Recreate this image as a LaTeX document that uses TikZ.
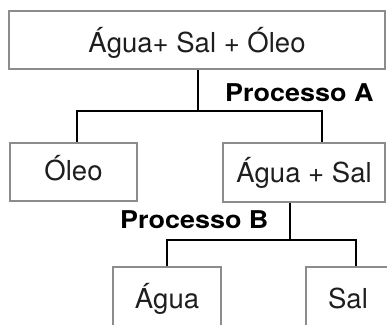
\documentclass[tikz,border=0pt]{standalone}
\usepackage{fontspec}
\setmainfont{TeX Gyre Heros}
\newfontfamily\labfont[FakeStretch=1.1]{TeX Gyre Heros}
\definecolor{boxgray}{HTML}{8C8C8C}
\definecolor{txt}{HTML}{1E1E1E}
\begin{document}
\begin{tikzpicture}[x=1pt,y=-1pt,
  box/.style={draw=boxgray, line width=2pt, rectangle, inner sep=0pt,
    text=txt, font=\fontsize{27.5}{30}\selectfont, text depth=0pt},
  conn/.style={draw=black, line width=2.2pt},
  proc/.style={inner sep=0pt, anchor=base west, font=\labfont\bfseries\fontsize{24.5}{28}\selectfont}]
\useasboundingbox (0,0) rectangle (387,324);
\node[box, minimum width=376pt, minimum height=58pt, text height=24pt] (top) at (197,40) {Água+ Sal + Óleo};
\node[box, minimum width=127pt, minimum height=58pt, text height=17pt] (oleo) at (73.5,172) {Óleo};
\node[box, minimum width=162pt, minimum height=59pt, text height=19pt] (aguasal) at (304,172.5) {Água + Sal};
\node[box, minimum width=108pt, minimum height=73pt, text height=9pt] (agua) at (167,303.5) {Água};
\node[box, minimum width=84pt, minimum height=73pt, text height=9pt] (sal) at (348,303.5) {Sal};
\node[proc] (pA) at (225,101.7) {Processo A};
\node[proc] (pB) at (120,228) {Processo B};
\coordinate (jA) at (198,111);
\coordinate (a1) at (77,111);
\coordinate (a2) at (322,111);
\coordinate (jB) at (290,240);
\coordinate (b1) at (167,240);
\coordinate (b2) at (356,240);
\draw[conn] (jA |- top.south) -- (jA);
\draw[conn] (a1 |- oleo.north) -- (a1) -- (a2) -- (a2 |- aguasal.north);
\draw[conn] (jB |- aguasal.south) -- (jB);
\draw[conn] (b1 |- agua.north) -- (b1) -- (b2) -- (b2 |- sal.north);
\end{tikzpicture}
\end{document}
